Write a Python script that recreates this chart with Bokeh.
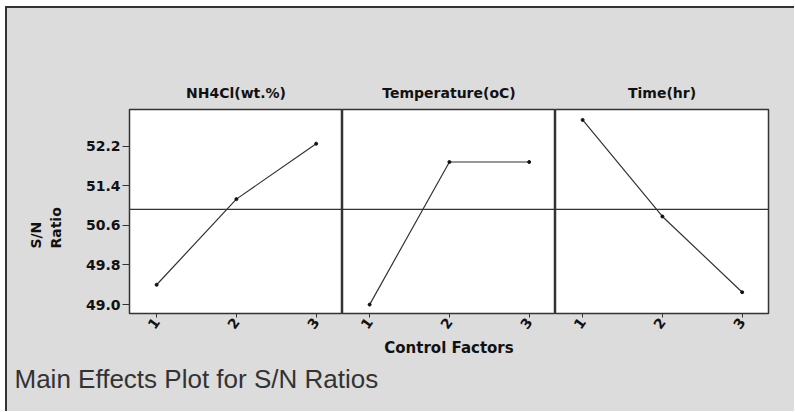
import numpy as np
from bokeh.plotting import figure
from bokeh.layouts import row, column
from bokeh.models import Range1d, FixedTicker, Span, Label, PrintfTickFormatter
from bokeh.embed import file_html
from bokeh.resources import INLINE

# ---- data ----
levels = [1, 2, 3]
factors = ["NH4Cl(wt.%)", "Temperature(oC)", "Time(hr)"]
nh4cl_sn = [49.40, 51.13, 52.25]
temp_sn = [49.00, 51.88, 51.88]
time_sn = [52.73, 50.78, 49.25]
y_ticks = [49.0, 49.8, 50.6, 51.4, 52.2]
series = [nh4cl_sn, temp_sn, time_sn]
y_title = ["S/N", "Ratio"]
x_title = "Control Factors"
caption = "Main Effects Plot for S/N Ratios"

overall_mean = float(np.mean(nh4cl_sn + temp_sn + time_sn))

GRAY = "#dcdcdc"
DARK = "#333333"
TXT = "#111111"
BOLD_FONT = "DejaVu Sans"

ROW_H = 352
y_range = Range1d(48.82, 52.94)
widths = [275, 213, 239]
borders_left = [62, 0, 0]
borders_right = [0, 0, 26]

# narrow side figure holding the vertical y-axis title
side = figure(width=60, height=ROW_H, output_backend="svg", toolbar_location=None,
              x_range=Range1d(0, 60), y_range=Range1d(0, ROW_H), min_border=0,
              background_fill_color=GRAY, border_fill_color=GRAY, outline_line_color=None)
side.axis.visible = False
side.grid.visible = False
for txt, sx in zip(y_title, (28, 48)):
    side.add_layout(Label(x=sx, y=112, text=txt, angle=np.pi / 2,
                          text_align="left", text_baseline="middle",
                          text_font=BOLD_FONT, text_font_style="bold",
                          text_font_size="14px", text_color=TXT))

figs = [side]
for i, (name, vals) in enumerate(zip(factors, series)):
    p = figure(width=widths[i], height=ROW_H, output_backend="svg", toolbar_location=None,
               x_range=Range1d(0.66, 3.33), y_range=y_range,
               min_border_left=borders_left[i], min_border_right=borders_right[i],
               min_border_top=101, min_border_bottom=44,
               background_fill_color="white", border_fill_color=GRAY,
               outline_line_color=DARK, outline_line_width=1.5)
    p.title.text = name
    p.title.align = "center"
    p.title.text_font = BOLD_FONT
    p.title.text_font_style = "bold"
    p.title.text_font_size = "14px"
    p.title.text_color = TXT
    p.title.standoff = 17
    p.grid.visible = False

    p.line(levels, vals, line_color=DARK, line_width=1.2)
    p.scatter(levels, vals, size=3, color=TXT)
    p.add_layout(Span(location=overall_mean, dimension="width",
                      line_color=DARK, line_width=1.3))

    xa = p.xaxis[0]
    xa.ticker = FixedTicker(ticks=levels)
    xa.minor_tick_line_color = None
    xa.major_tick_in = 0
    xa.major_tick_out = 4
    xa.major_tick_line_color = DARK
    xa.axis_line_color = DARK
    xa.major_label_orientation = 0.95
    xa.major_label_standoff = 2
    xa.major_label_text_font = BOLD_FONT
    xa.major_label_text_font_style = "bold"
    xa.major_label_text_font_size = "14px"
    xa.major_label_text_color = TXT

    ya = p.yaxis[0]
    if i == 0:
        ya.ticker = FixedTicker(ticks=y_ticks)
        ya.formatter = PrintfTickFormatter(format="%.1f")
        ya.minor_tick_line_color = None
        ya.major_tick_in = 0
        ya.major_tick_out = 7
        ya.major_tick_line_color = DARK
        ya.axis_line_color = DARK
        ya.major_label_standoff = 2
        ya.major_label_text_font = BOLD_FONT
        ya.major_label_text_font_style = "bold"
        ya.major_label_text_font_size = "14px"
        ya.major_label_text_color = TXT
    else:
        ya.visible = False

    if i == 1:
        xa.axis_label = x_title
        xa.axis_label_text_font = BOLD_FONT
        xa.axis_label_text_font_style = "bold"
        xa.axis_label_text_font_size = "15px"
        xa.axis_label_text_color = TXT
        xa.axis_label_standoff = 3
    figs.append(p)

footer = figure(width=787, height=51, output_backend="svg", toolbar_location=None,
                x_range=Range1d(0, 787), y_range=Range1d(0, 51),
                min_border=0, background_fill_color=GRAY, border_fill_color=GRAY,
                outline_line_color=None)
footer.axis.visible = False
footer.grid.visible = False
footer.add_layout(Label(x=7, y=33, text=caption,
                        text_font="Liberation Sans", text_font_size="26px",
                        text_color="#333333", text_baseline="alphabetic"))

layout = column(row(*figs, spacing=0), footer, spacing=0,
                styles={"background-color": GRAY, "margin-left": "5px", "margin-top": "6px",
                        "border-left": "2px solid #333", "border-top": "2px solid #333"})

open("out.html", "w").write(file_html(layout, INLINE))
